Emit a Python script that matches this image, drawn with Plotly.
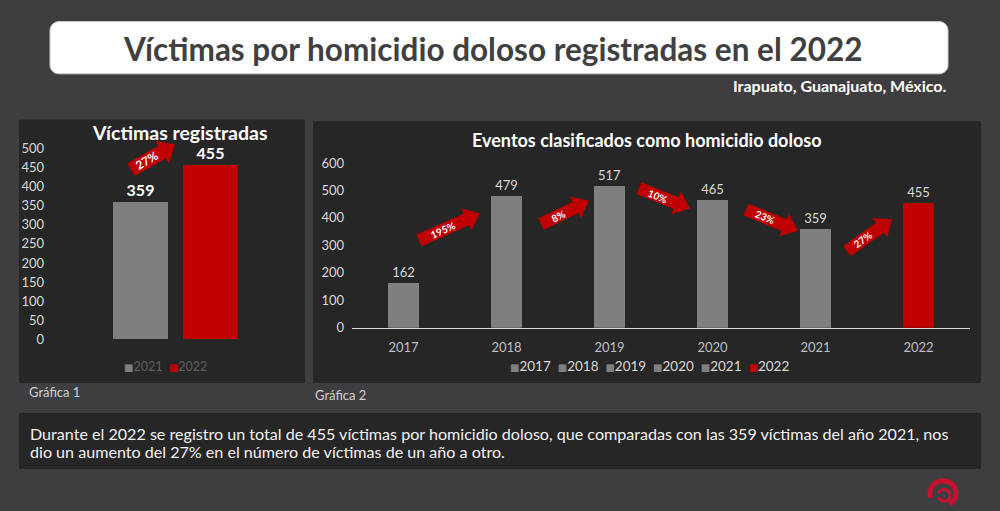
import math
import plotly.graph_objects as go

W, H = 1000, 511

# ---------------- data ----------------
g1_years = ["2021", "2022"]
g1_values = [359, 455]
g1_colors = ["#7f7f7f", "#c00000"]

g2_years = ["2017", "2018", "2019", "2020", "2021", "2022"]
g2_values = [162, 479, 517, 465, 359, 455]
g2_colors = ["#7f7f7f", "#7f7f7f", "#7f7f7f", "#7f7f7f", "#7f7f7f", "#c00000"]

g1_change = ["27%"]
g2_changes = ["195%", "8%", "10%", "23%", "27%"]

title_text = "Víctimas por homicidio doloso registradas en el 2022"
subtitle_text = "Irapuato, Guanajuato, México."
g1_title = "Víctimas registradas"
g2_title = "Eventos clasificados como homicidio doloso"
body_line1 = "Durante el 2022 se registro un total de 455 víctimas por homicidio doloso, que comparadas con las 359 víctimas del año 2021, nos"
body_line2 = "dio un aumento del 27% en el número de víctimas de un año a otro."

FONT = "Lato, 'Open Sans', sans-serif"
BG = "#3e3e40"
PANEL = "#262626"
RED = "#c00000"


def P(x, y):
    return x / W, 1 - y / H


def path_from(points, close=True):
    s = ""
    for i, (x, y) in enumerate(points):
        px, py = P(x, y)
        s += ("M" if i == 0 else "L") + f" {px:.5f} {py:.5f} "
    return s + ("Z" if close else "")


def rounded_rect(x0, y0, x1, y1, r):
    pts = []
    n = 6
    corners = [(x1 - r, y0 + r, -90, 0), (x1 - r, y1 - r, 0, 90),
               (x0 + r, y1 - r, 90, 180), (x0 + r, y0 + r, 180, 270)]
    for cx, cy, a0, a1 in corners:
        for k in range(n + 1):
            a = math.radians(a0 + (a1 - a0) * k / n)
            pts.append((cx + r * math.cos(a), cy + r * math.sin(a)))
    return path_from(pts)


def arc(cx, cy, r, a0, a1, n=24):
    pts = []
    for k in range(n + 1):
        a = math.radians(a0 + (a1 - a0) * k / n)
        pts.append((cx + r * math.cos(a), cy + r * math.sin(a)))
    return path_from(pts, close=False)


def arrow(tail, tip, w=13, hw=25, hl=15):
    tx, ty = tail
    px_, py_ = tip
    dx, dy = px_ - tx, py_ - ty
    L = math.hypot(dx, dy)
    ux, uy = dx / L, dy / L
    nx, ny = -uy, ux
    bx, by = px_ - ux * hl, py_ - uy * hl
    pts = [(tx + nx * w / 2, ty + ny * w / 2), (bx + nx * w / 2, by + ny * w / 2),
           (bx + nx * hw / 2, by + ny * hw / 2), (px_, py_),
           (bx - nx * hw / 2, by - ny * hw / 2), (bx - nx * w / 2, by - ny * w / 2),
           (tx - nx * w / 2, ty - ny * w / 2)]
    ang = math.degrees(math.atan2(dy, dx))
    mid = ((tx + bx) / 2, (ty + by) / 2)
    return path_from(pts), ang, mid


fig = go.Figure()

# chart 1 bars
for yr, v, c in zip(g1_years, g1_values, g1_colors):
    fig.add_trace(go.Bar(
        x=[yr], y=[v], name=yr, marker=dict(color=c, line=dict(width=0)),
        width=0.786, text=[str(v)], textposition="outside", cliponaxis=False,
        textfont=dict(family=FONT, size=16, color="#ffffff", weight="bold"),
        xaxis="x", yaxis="y", hoverinfo="x+y", showlegend=False))

# chart 2 bars
for yr, v, c in zip(g2_years, g2_values, g2_colors):
    fig.add_trace(go.Bar(
        x=[yr], y=[v], name=yr, marker=dict(color=c, line=dict(width=0)),
        width=0.31, text=[str(v)], textposition="outside", cliponaxis=False,
        textfont=dict(family=FONT, size=13, color="#d9d9d9"),
        xaxis="x2", yaxis="y2", hoverinfo="x+y", showlegend=False))

shapes = []
# title box
shapes.append(dict(type="path", xref="paper", yref="paper", path=rounded_rect(50, 14, 948, 68, 9),
                   fillcolor="#ffffff", line=dict(color="#c8c8c8", width=1), layer="below"))
# panels
for (x0, y0, x1, y1) in [(19, 115, 305, 387), (313, 117, 981, 387), (19, 418, 981, 476)]:
    a, b = P(x0, y1)
    c, d = P(x1, y0)
    shapes.append(dict(type="rect", xref="paper", yref="paper", x0=a, y0=b, x1=c, y1=d,
                       fillcolor=PANEL, line=dict(width=0), layer="below"))

annotations = []
arrow_specs = [((131, 167), (175, 141), g1_change[0], 12, 15, 27, 15)]
arrow_pts2 = [((419, 240), (480, 212)), ((541, 223), (589, 199)), ((639, 186), (690, 207)),
              ((746, 208), (798, 230)), ((847, 251), (892, 218))]
for (t, p), lab in zip(arrow_pts2, g2_changes):
    arrow_specs.append((t, p, lab, 10, 13, 25, 15))
for t, p, lab, fs, w, hw, hl in arrow_specs:
    pth, ang, mid = arrow(t, p, w=w, hw=hw, hl=hl)
    shapes.append(dict(type="path", xref="paper", yref="paper", path=pth,
                       fillcolor=RED, line=dict(width=0), layer="above"))
    mx, my = P(*mid)
    annotations.append(dict(x=mx, y=my, xref="paper", yref="paper", text=lab, showarrow=False,
                            xanchor="center", yanchor="middle", textangle=ang,
                            font=dict(family=FONT, size=fs, color="#ffffff", weight="bold")))

# logo (approximate swirl)
for pth, lw in [(arc(943, 501, 13, 160, 420), 5), (arc(944, 503, 6, 200, 520), 3)]:
    shapes.append(dict(type="path", xref="paper", yref="paper", path=pth,
                       line=dict(color="#c8102e", width=lw)))


def ann(x, y, text, size, color, bold=False, xanchor="center", yanchor="middle", align="center"):
    px, py = P(x, y)
    annotations.append(dict(x=px, y=py, xref="paper", yref="paper", text=text, showarrow=False,
                            xanchor=xanchor, yanchor=yanchor, align=align,
                            font=dict(family=FONT, size=size, color=color,
                                      weight="bold" if bold else "normal")))


ann(492, 42, title_text, 31.5, "#404040", bold=True)
ann(948, 80, subtitle_text, 16, "#ffffff", bold=True, xanchor="right")
ann(180, 129, g1_title, 19.5, "#ffffff", bold=True)
ann(647, 136, g2_title, 18, "#ffffff", bold=True)
ann(27, 396, "Gráfica 1", 13, "#d0d0d0", xanchor="left")
ann(313, 399, "Gráfica 2", 13, "#d0d0d0", xanchor="left")
ann(28, 439, body_line1, 16.1, "#f2f2f2", xanchor="left")
ann(28, 458, body_line2, 16.1, "#f2f2f2", xanchor="left")


# legends built from the series names / colours
def legend_text(names, colors):
    return "&nbsp;&nbsp;".join(
        f"<span style='color:{c}; font-family:DejaVu Sans; font-size:10px'>■</span>{n}"
        for n, c in zip(names, colors))


ann(165, 370, legend_text(g1_years, g1_colors), 12.5, "#5f5f5f")
ann(649, 370, legend_text(g2_years, g2_colors), 13.5, "#d9d9d9")

x1d = (46 / W, 300 / W)
y1d = (1 - 342 / H, 1 - 145 / H)
x2d = (352 / W, 970 / W)
y2d = (1 - 330 / H, 1 - 160 / H)

tickfont = dict(family=FONT, size=13, color="#d9d9d9")

fig.update_layout(
    width=W, height=H, margin=dict(l=0, r=0, t=0, b=0),
    paper_bgcolor=BG, plot_bgcolor="rgba(0,0,0,0)",
    barmode="overlay", bargap=0,
    shapes=shapes, annotations=annotations,
    xaxis=dict(domain=x1d, type="category", range=[-1.35, 2.279], showticklabels=False,
               showline=False, showgrid=False, zeroline=False, fixedrange=True),
    yaxis=dict(domain=y1d, range=[0, 500], dtick=50, showgrid=False, zeroline=False,
               showline=False, tickfont=tickfont, ticks="", anchor="x", ticklabelstandoff=1),
    xaxis2=dict(domain=x2d, type="category", range=[-0.5, 5.5], showgrid=False, zeroline=False,
                showline=True, linecolor="#d9d9d9", linewidth=1, ticks="",
                tickfont=dict(family=FONT, size=13, color="#bfbfbf"), anchor="y2",
                ticklabelstandoff=8),
    yaxis2=dict(domain=y2d, range=[0, 600], dtick=100, showgrid=False, zeroline=False,
                showline=False, tickfont=tickfont, ticks="", anchor="x2", ticklabelstandoff=7),
    showlegend=False,
)

fig.write_html("out.html")
